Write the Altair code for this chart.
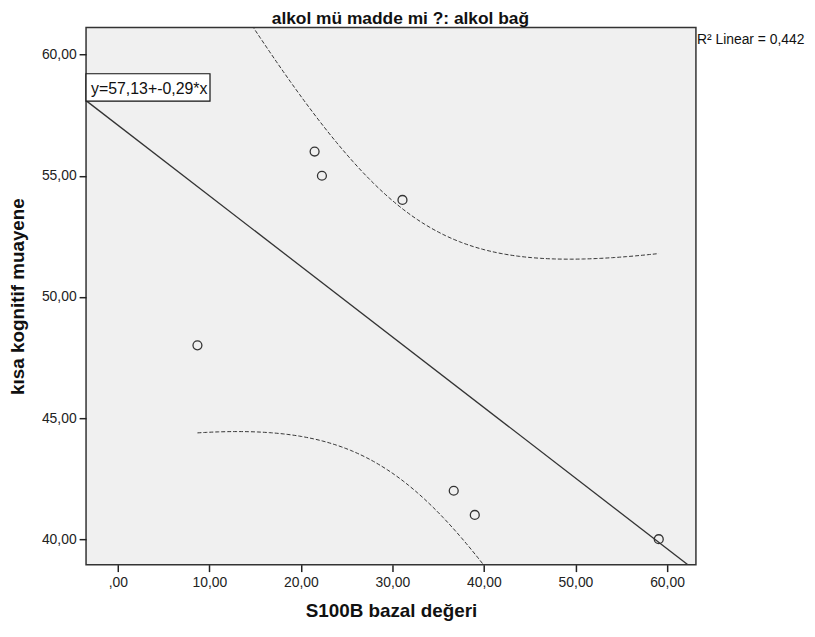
import altair as alt
import numpy as np
import pandas as pd

# ---- data ----
s100b = [8.7, 21.5, 22.3, 31.1, 36.7, 39.0, 59.1]      # S100B bazal değeri
kognitif = [48, 56, 55, 54, 42, 41, 40]                # kısa kognitif muayene
x_ticks = [0, 10, 20, 30, 40, 50, 60]
y_ticks = [40, 45, 50, 55, 60]
x_domain = [-3.47, 63.16]
y_domain = [38.95, 61.12]
title_text = "alkol mü madde mi ?: alkol bağ"
x_title = "S100B bazal değeri"
y_title = "kısa kognitif muayene"
equation_text = "y=57,13+-0,29*x"
r2_text = "R² Linear = 0,442"
T_975_DF5 = 2.5706  # Student t quantile, 95% two-sided, df = 5

# ---- least-squares fit and 95% mean confidence band ----
xa = np.array(s100b, dtype=float)
ya = np.array(kognitif, dtype=float)
n = len(xa)
slope, intercept = np.polyfit(xa, ya, 1)
resid = ya - (intercept + slope * xa)
s = np.sqrt(np.sum(resid ** 2) / (n - 2))
xm = xa.mean()
sxx = np.sum((xa - xm) ** 2)

points = pd.DataFrame({"x": s100b, "y": kognitif})
lx = np.array(x_domain)
fit = pd.DataFrame({"x": lx, "y": intercept + slope * lx})
cx = np.linspace(xa.min(), xa.max(), 200)
half = T_975_DF5 * s * np.sqrt(1.0 / n + (cx - xm) ** 2 / sxx)
band = pd.concat([
    pd.DataFrame({"x": cx, "y": intercept + slope * cx + half, "side": "upper"}),
    pd.DataFrame({"x": cx, "y": intercept + slope * cx - half, "side": "lower"}),
])

FONT = "Liberation Sans"
label_expr = "datum.value == 0 ? ',00' : replace(format(datum.value, '.2f'), '.', ',')"

x_enc = alt.X("x:Q",
              scale=alt.Scale(domain=x_domain, nice=False, zero=False),
              axis=alt.Axis(values=x_ticks, labelExpr=label_expr, title=x_title,
                            grid=False, domain=False, tickSize=7, tickWidth=1.5,
                            tickColor="#222222", labelFontSize=14, labelFont=FONT,
                            labelColor="#222222", labelPadding=4,
                            titleFont=FONT, titleFontSize=19, titleFontWeight="bold",
                            titleColor="#111111", titlePadding=12))
y_enc = alt.Y("y:Q",
              scale=alt.Scale(domain=y_domain, nice=False, zero=False),
              axis=alt.Axis(values=y_ticks, labelExpr=label_expr, title=y_title,
                            grid=False, domain=False, tickSize=7, tickWidth=1.5,
                            tickColor="#222222", labelFontSize=14, labelFont=FONT,
                            labelColor="#222222", labelPadding=3,
                            titleFont=FONT, titleFontSize=19, titleFontWeight="bold",
                            titleColor="#111111", titlePadding=14))

fit_line = alt.Chart(fit).mark_line(color="#333333", strokeWidth=1.3, clip=True).encode(
    x=x_enc, y=y_enc)

band_lines = alt.Chart(band).mark_line(color="#333333", strokeWidth=1, strokeDash=[4, 2],
                                       clip=True).encode(
    x="x:Q", y="y:Q", detail="side:N")

dots = alt.Chart(points).mark_point(shape="circle", filled=False, size=81,
                                    strokeWidth=1.3, color="#333333", opacity=1).encode(
    x="x:Q", y="y:Q")

one = pd.DataFrame({"k": [0]})
eq_box = alt.Chart(one).mark_rect(fill="white", stroke="#111111", strokeWidth=1.2).encode(
    x=alt.value(0), x2=alt.value(125), y=alt.value(46.7), y2=alt.value(74.3))
eq_text = alt.Chart(one).mark_text(text=equation_text, font=FONT, fontSize=16,
                                   align="left", baseline="alphabetic",
                                   color="#111111").encode(
    x=alt.value(5), y=alt.value(67.5))
r2_label = alt.Chart(one).mark_text(text=r2_text, font=FONT, fontSize=14,
                                    align="left", baseline="alphabetic",
                                    color="#111111").encode(
    x=alt.value(616), y=alt.value(16.7))
title_label = alt.Chart(one).mark_text(text=title_text, font=FONT, fontSize=17.5,
                                       fontWeight="bold", align="center",
                                       baseline="alphabetic", color="#111111").encode(
    x=alt.value(317), y=alt.value(-3.5))

chart = alt.layer(fit_line, band_lines, dots, eq_box, eq_text, r2_label, title_label).properties(
    width=615, height=541.7,
    autosize=alt.AutoSizeParams(type="none"),
    padding={"left": 78.7, "top": 17, "right": 112, "bottom": 68},
    background="white",
).configure_view(fill="#F0F0F0", stroke="#333333", strokeWidth=1.5)

chart.save("out.html", embed_options={"renderer": "svg", "actions": False})
